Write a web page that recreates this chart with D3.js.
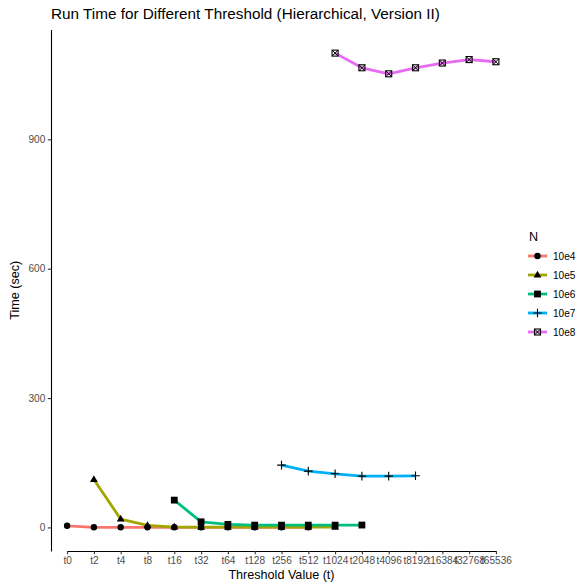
<!DOCTYPE html>
<html>
<head>
<meta charset="utf-8">
<script src="https://cdn.jsdelivr.net/npm/d3@7"></script>
<style>
  body { margin: 0; background: #fff; }
  text { font-family: "Liberation Sans", Arial, sans-serif; }
</style>
</head>
<body>
<div id="chart-area"></div>
<script>
// thresholds on the x axis
const thresholds = ["t0", "t2", "t4", "t8", "t16", "t32", "t64", "t128", "t256", "t512",
    "t1024", "t2048", "t4096", "t8192", "t16384", "t32768", "t65536"];

// N levels
const sizes = ["10e4", "10e5", "10e6", "10e7", "10e8"];
const colors = ["#F8766D", "#A3A500", "#00BF7D", "#00B0F6", "#E76BF3"];
const shapes = ["circle", "triangle", "square", "plus", "squarecross"];

// run times (sec), one list per N, each with its own threshold range
const t10e4 = ["t0", "t2", "t4", "t8", "t16", "t32", "t64", "t128", "t256", "t512"];
const v10e4 = [3.7, 0.3, 0.3, 0.3, 0.3, 0.3, 0.3, 0.3, 0.3, 0.3];
const t10e5 = ["t2", "t4", "t8", "t16", "t32", "t64", "t128", "t256", "t512", "t1024"];
const v10e5 = [111, 19.3, 4.6, 0.8, 0.6, 0.6, 0.6, 0.6, 0.6, 0.6];
const t10e6 = ["t16", "t32", "t64", "t128", "t256", "t512", "t1024", "t2048"];
const v10e6 = [63.3, 13, 7, 5.3, 5.3, 5.3, 5.3, 5.5];
const t10e7 = ["t256", "t512", "t1024", "t2048", "t4096", "t8192"];
const v10e7 = [144.5, 130.6, 124.4, 119, 119, 119.7];
const t10e8 = ["t1024", "t2048", "t4096", "t8192", "t16384", "t32768", "t65536"];
const v10e8 = [1100, 1066, 1052, 1066, 1077, 1085, 1080];

const seriesT = [t10e4, t10e5, t10e6, t10e7, t10e8];
const seriesV = [v10e4, v10e5, v10e6, v10e7, v10e8];
const yTicks = [0, 300, 600, 900];

const series = sizes.map((n, i) => ({
    n: n, color: colors[i], shape: shapes[i],
    values: seriesT[i].map((t, j) => ({t: t, v: seriesV[i][j]}))
}));

const width = 580, height = 584;
const margin = {top: 29.4, right: 68, bottom: 33, left: 51};
const innerW = width - margin.left - margin.right;
const innerH = height - margin.top - margin.bottom;

const svg = d3.select("#chart-area")
    .append("svg")
    .attr("width", width)
    .attr("height", height);

const g = svg.append("g")
    .attr("transform", "translate(" + margin.left + "," + margin.top + ")");

// discrete x scale with ggplot's 0.6 unit expansion
const step = innerW / (thresholds.length - 1 + 1.2);
const x = d3.scalePoint()
    .domain(thresholds)
    .range([0.6 * step, innerW - 0.6 * step]);

const allV = seriesV.flat();
const vMin = d3.min(allV), vMax = d3.max(allV);
const pad = (vMax - vMin) * 0.05;
const y = d3.scaleLinear()
    .domain([vMin - pad, vMax + pad])
    .range([innerH, 0]);

// axes
const xAxis = g.append("g")
    .attr("transform", "translate(0," + innerH + ")")
    .call(d3.axisBottom(x).tickSize(3.2).tickSizeOuter(0).tickPadding(2.5));
const yAxis = g.append("g")
    .call(d3.axisLeft(y).tickValues(yTicks).tickSize(3.2).tickSizeOuter(0).tickPadding(2.5));

[xAxis, yAxis].forEach(ax => {
    ax.select(".domain").attr("stroke", "#000").attr("stroke-width", 1.1);
    ax.selectAll(".tick line").attr("stroke", "#333").attr("stroke-width", 1.1);
    ax.selectAll(".tick text")
        .attr("fill", "#4d4d4d")
        .style("font-size", "10.1px")
        .style("font-family", "'Liberation Sans', Arial, sans-serif");
});

// lines
const line = d3.line()
    .x(d => x(d.t))
    .y(d => y(d.v));

g.selectAll(".series-line")
    .data(series)
    .enter()
    .append("path")
    .attr("class", "series-line")
    .attr("d", d => line(d.values))
    .attr("fill", "none")
    .attr("stroke", d => d.color)
    .attr("stroke-width", 2.8)
    .attr("stroke-linejoin", "round");

// point markers drawn at 0,0
function drawShape(sel, shape) {
    if (shape === "circle") {
        sel.append("circle").attr("r", 3.2).attr("fill", "#000");
    } else if (shape === "triangle") {
        sel.append("path").attr("d", "M0,-4.3L3.9,2.5L-3.9,2.5Z").attr("fill", "#000");
    } else if (shape === "square") {
        sel.append("rect").attr("x", -3.4).attr("y", -3.4)
            .attr("width", 6.8).attr("height", 6.8).attr("fill", "#000");
    } else if (shape === "plus") {
        sel.append("path").attr("d", "M-4.3,0H4.3M0,-4.3V4.3")
            .attr("stroke", "#000").attr("stroke-width", 1.1).attr("fill", "none");
    } else {
        sel.append("rect").attr("x", -3).attr("y", -3)
            .attr("width", 6).attr("height", 6)
            .attr("fill", "none").attr("stroke", "#000").attr("stroke-width", 1.1);
        sel.append("path").attr("d", "M-3,-3L3,3M-3,3L3,-3")
            .attr("stroke", "#000").attr("stroke-width", 1).attr("fill", "none");
    }
}

series.forEach(s => {
    g.append("g").selectAll("g")
        .data(s.values)
        .enter()
        .append("g")
        .attr("transform", d => "translate(" + x(d.t) + "," + y(d.v) + ")")
        .each(function () { drawShape(d3.select(this), s.shape); });
});

// titles
svg.append("text")
    .attr("x", 51).attr("y", 19)
    .style("font-size", "15.3px")
    .attr("fill", "#000")
    .text("Run Time for Different Threshold (Hierarchical, Version II)");

svg.append("text")
    .attr("x", margin.left + innerW / 2).attr("y", 579)
    .attr("text-anchor", "middle")
    .style("font-size", "12.6px")
    .text("Threshold Value (t)");

svg.append("text")
    .attr("transform", "translate(19," + (margin.top + innerH / 2) + ") rotate(-90)")
    .attr("text-anchor", "middle")
    .style("font-size", "12.6px")
    .text("Time (sec)");

// legend
const legend = svg.append("g").attr("transform", "translate(528,0)");
legend.append("text")
    .attr("x", 1).attr("y", 241)
    .style("font-size", "12.6px")
    .text("N");

const items = legend.selectAll(".item")
    .data(series)
    .enter()
    .append("g")
    .attr("class", "item")
    .attr("transform", (d, i) => "translate(0," + (256 + i * 19) + ")");

items.append("line")
    .attr("x1", 0).attr("x2", 19)
    .attr("stroke", d => d.color)
    .attr("stroke-width", 2.8);
items.append("g")
    .attr("transform", "translate(9.5,0)")
    .each(function (d) { drawShape(d3.select(this), d.shape); });
items.append("text")
    .attr("x", 25).attr("y", 3.6)
    .style("font-size", "10.1px")
    .attr("fill", "#000")
    .text(d => d.n);
</script>
</body>
</html>
